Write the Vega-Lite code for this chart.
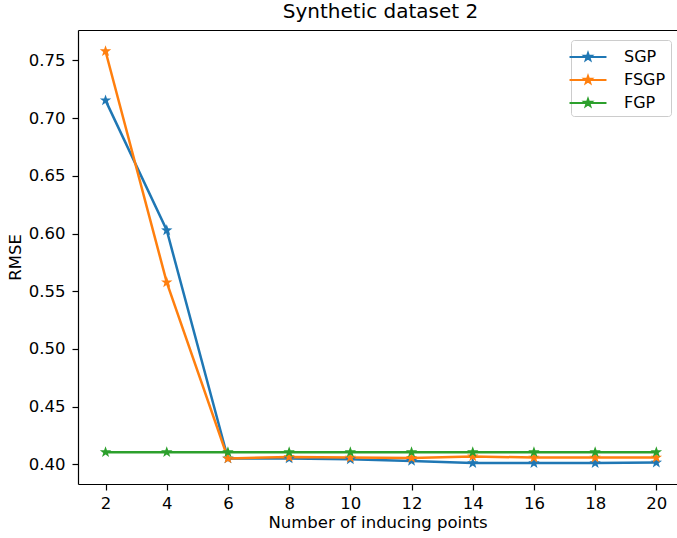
{
  "$schema": "https://vega.github.io/schema/vega-lite/v6.json",
  "width": 599,
  "height": 454,
  "autosize": {"type": "none"},
  "padding": {"left": 78, "top": 30, "right": 0, "bottom": 54},
  "title": {"text": "Synthetic dataset 2", "font": "DejaVu Sans", "fontSize": 20, "fontWeight": "normal", "color": "#000", "offset": 8, "dx": 3},
  "config": {
    "font": "DejaVu Sans",
    "view": {"stroke": null},
    "axis": {"grid": false, "domain": true, "domainColor": "#000", "domainWidth": 1.2, "tickColor": "#000", "tickSize": 6, "tickWidth": 1.2, "labelColor": "#000", "labelFontSize": 16.5, "titleFontSize": 16.5, "titleFontWeight": "normal", "titleColor": "#000", "labelPadding": 5}
  },
  "data": {"values": [
    {"n": 2, "s": "SGP", "rmse": 0.7154},
    {"n": 4, "s": "SGP", "rmse": 0.6028},
    {"n": 6, "s": "SGP", "rmse": 0.405},
    {"n": 8, "s": "SGP", "rmse": 0.405},
    {"n": 10, "s": "SGP", "rmse": 0.4043},
    {"n": 12, "s": "SGP", "rmse": 0.4029},
    {"n": 14, "s": "SGP", "rmse": 0.401},
    {"n": 16, "s": "SGP", "rmse": 0.401},
    {"n": 18, "s": "SGP", "rmse": 0.401},
    {"n": 20, "s": "SGP", "rmse": 0.4015},
    {"n": 2, "s": "FSGP", "rmse": 0.758},
    {"n": 4, "s": "FSGP", "rmse": 0.5577},
    {"n": 6, "s": "FSGP", "rmse": 0.405},
    {"n": 8, "s": "FSGP", "rmse": 0.4063},
    {"n": 10, "s": "FSGP", "rmse": 0.4058},
    {"n": 12, "s": "FSGP", "rmse": 0.4055},
    {"n": 14, "s": "FSGP", "rmse": 0.4068},
    {"n": 16, "s": "FSGP", "rmse": 0.4058},
    {"n": 18, "s": "FSGP", "rmse": 0.4058},
    {"n": 20, "s": "FSGP", "rmse": 0.4058},
    {"n": 2, "s": "FGP", "rmse": 0.4105},
    {"n": 4, "s": "FGP", "rmse": 0.4105},
    {"n": 6, "s": "FGP", "rmse": 0.4105},
    {"n": 8, "s": "FGP", "rmse": 0.4105},
    {"n": 10, "s": "FGP", "rmse": 0.4105},
    {"n": 12, "s": "FGP", "rmse": 0.4105},
    {"n": 14, "s": "FGP", "rmse": 0.4105},
    {"n": 16, "s": "FGP", "rmse": 0.4105},
    {"n": 18, "s": "FGP", "rmse": 0.4105},
    {"n": 20, "s": "FGP", "rmse": 0.4105}
  ]},
  "resolve": {"axis": {"x": "independent"}},
  "layer": [
    {
      "mark": {"type": "line", "strokeWidth": 2.5},
      "encoding": {
        "x": {"field": "n", "type": "quantitative", "scale": {"domain": [1.1, 20.675], "nice": false, "zero": false}, "axis": {"values": [2,4,6,8,10,12,14,16,18,20], "title": "Number of inducing points", "titlePadding": 3}},
        "y": {"field": "rmse", "type": "quantitative", "scale": {"domain": [0.3829, 0.7764], "nice": false, "zero": false}, "axis": {"values": [0.40,0.45,0.50,0.55,0.60,0.65,0.70,0.75], "format": ".2f", "title": "RMSE", "titlePadding": 5, "labelPadding": 7}},
        "color": {"field": "s", "type": "nominal", "sort": ["SGP", "FSGP", "FGP"], "scale": {"domain": ["SGP", "FSGP", "FGP"], "range": ["#1f77b4", "#ff7f0e", "#2ca02c"]},
          "legend": {"title": null, "orient": "none", "legendX": 493, "legendY": 10, "labelFontSize": 16, "labelColor": "#000", "strokeColor": "#cccccc", "fillColor": "#ffffff", "cornerRadius": 3, "padding": 5,
            "symbolType": "M0,-0.34L0.08,-0.11L0.323,-0.105L0.129,0.042L0.2,0.275L0,0.136L-0.2,0.275L-0.129,0.042L-0.323,-0.105L-0.08,-0.11Z M-1.76,0L1.76,0",
            "symbolSize": 441, "symbolStrokeWidth": 2.2, "rowPadding": 3, "labelOffset": 24}}
      }
    },
    {
      "mark": {"type": "point", "shape": "M0,-1L0.235,-0.324L0.951,-0.309L0.38,0.124L0.588,0.809L0,0.4L-0.588,0.809L-0.38,0.124L-0.951,-0.309L-0.235,-0.324Z", "filled": true, "size": 144, "opacity": 1},
      "encoding": {
        "x": {"field": "n", "type": "quantitative", "axis": null},
        "y": {"field": "rmse", "type": "quantitative"},
        "color": {"field": "s", "type": "nominal"}
      }
    },
    {
      "mark": {"type": "point", "opacity": 0},
      "encoding": {
        "x": {"field": "n", "type": "quantitative", "axis": {"orient": "top", "labels": false, "ticks": false, "title": null, "domain": true}},
        "y": {"field": "rmse", "type": "quantitative"}
      }
    }
  ]
}
